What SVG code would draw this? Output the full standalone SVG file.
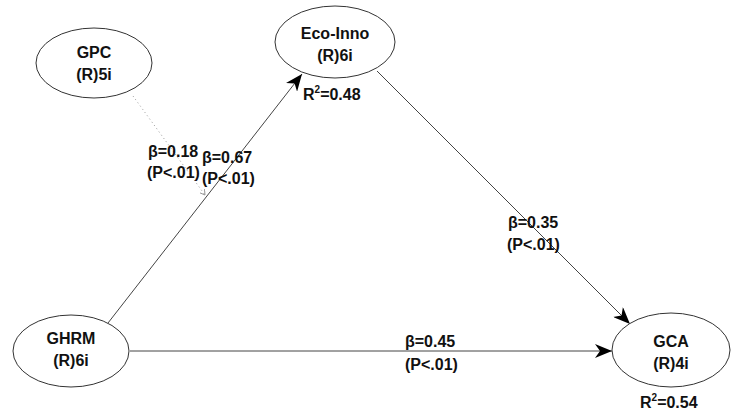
<svg xmlns="http://www.w3.org/2000/svg" width="732" height="412" viewBox="0 0 732 412">
<style>
.node ellipse{fill:#fff;stroke:#333;stroke-width:1}
.t{font-family:"Liberation Sans",Arial,sans-serif;font-weight:bold;font-size:16px;fill:#111;text-anchor:middle}
.lbl{font-family:"Liberation Sans",Arial,sans-serif;font-weight:bold;font-size:16px;fill:#111}
.path{stroke:#444;stroke-width:1;fill:none}
</style>
<defs>
<marker id="ah" markerWidth="18" markerHeight="14" refX="17" refY="7" orient="auto" markerUnits="userSpaceOnUse">
<path d="M0,0 L17,7 L0,14 L5,7 z" fill="#000"/>
</marker>
<marker id="sm" markerWidth="6" markerHeight="6" refX="5" refY="3" orient="auto" markerUnits="userSpaceOnUse">
<path d="M0,0 L5,3 L0,6" fill="none" stroke="#888" stroke-width="0.8"/>
</marker>
</defs>
<rect width="732" height="412" fill="#fff"/>
<g id="connectors">
<line class="path" x1="108" y1="323" x2="302" y2="74" marker-end="url(#ah)"/>
<line class="path" x1="377" y1="71" x2="630" y2="324" marker-end="url(#ah)"/>
<line class="path" x1="130" y1="351" x2="612" y2="351" stroke-width="1.6" marker-end="url(#ah)"/>
<line x1="133" y1="96" x2="205" y2="195" stroke="#999" stroke-width="1" stroke-dasharray="1,3" marker-end="url(#sm)"/>
</g>
<g id="GPC" class="node">
<ellipse cx="94" cy="63" rx="58" ry="35"/>
<text class="t" x="94" y="58">GPC</text>
<text class="t" x="94" y="80">(R)5i</text>
</g>
<g id="Eco-Inno" class="node">
<ellipse cx="335" cy="42" rx="60" ry="36"/>
<text class="t" x="335" y="39">Eco-Inno</text>
<text class="t" x="335" y="61">(R)6i</text>
<text class="lbl" x="303" y="100">R<tspan font-size="10" dy="-7">2</tspan><tspan dy="7">=0.48</tspan></text>
</g>
<g id="GHRM" class="node">
<ellipse cx="71" cy="351" rx="58" ry="36"/>
<text class="t" x="71" y="344">GHRM</text>
<text class="t" x="71" y="366">(R)6i</text>
</g>
<g id="GCA" class="node">
<ellipse cx="671" cy="350" rx="59" ry="37"/>
<text class="t" x="671" y="347">GCA</text>
<text class="t" x="671" y="369">(R)4i</text>
<text class="lbl" x="640" y="408">R<tspan font-size="10" dy="-7">2</tspan><tspan dy="7">=0.54</tspan></text>
</g>
<g id="labels">
<text class="lbl" x="148" y="157">β=0.18</text>
<text class="lbl" x="147" y="178">(P&lt;.01)</text>
<text class="lbl" x="202" y="163">β=0.67</text>
<text class="lbl" x="202" y="184">(P&lt;.01)</text>
<text class="lbl" x="508" y="228">β=0.35</text>
<text class="lbl" x="507" y="250">(P&lt;.01)</text>
<text class="lbl" x="405" y="347">β=0.45</text>
<text class="lbl" x="405" y="370">(P&lt;.01)</text>
</g>
</svg>
